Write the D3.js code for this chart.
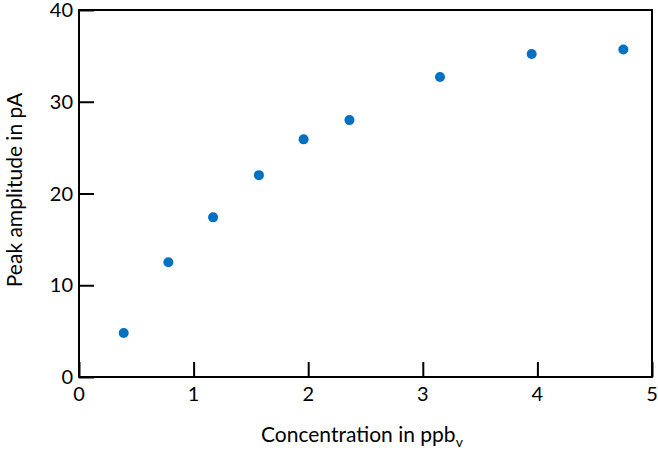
<!DOCTYPE html>
<html lang="en">
<head>
<meta charset="UTF-8">
<script src="https://cdn.jsdelivr.net/npm/d3@7"></script>
<style>
  body { margin: 0; background: #fff; }
  text { font-family: Lato, "Open Sans", sans-serif; fill: #000; }
</style>
</head>
<body>
<svg width="658" height="451"></svg>
<script>
  // concentration in ppbV
  var conc = [0.39, 0.78, 1.17, 1.57, 1.96, 2.36, 3.15, 3.95, 4.75];
  // peak amplitude in pA
  var amp = [4.8, 12.5, 17.4, 22.0, 25.9, 28.0, 32.7, 35.2, 35.7];
  var xTicks = [0, 1, 2, 3, 4, 5];
  var yTicks = [0, 10, 20, 30, 40];

  var svg = d3.select("svg");
  var mLeft = 79, mRight = 652, mTop = 10, mBottom = 377;

  var x = d3.scaleLinear().domain([0, 5]).range([mLeft, mRight]);
  var y = d3.scaleLinear().domain([0, 40]).range([mBottom, mTop]);

  // frame
  svg.append("rect")
    .attr("x", mLeft).attr("y", mTop)
    .attr("width", mRight - mLeft).attr("height", mBottom - mTop)
    .attr("fill", "none").attr("stroke", "#000").attr("stroke-width", 2);

  // inward ticks, labels drawn separately
  var xAxis = svg.append("g")
    .attr("transform", "translate(0," + mBottom + ")")
    .call(d3.axisTop(x).tickValues(xTicks).tickSize(15).tickFormat(""));
  var yAxis = svg.append("g")
    .attr("transform", "translate(" + mLeft + ",0)")
    .call(d3.axisRight(y).tickValues(yTicks).tickSize(15).tickFormat(""));
  [xAxis, yAxis].forEach(function (g) {
    g.select(".domain").remove();
    g.selectAll("line").attr("stroke", "#000").attr("stroke-width", 2);
  });

  svg.append("g").selectAll("text")
    .data(xTicks).enter().append("text")
    .attr("x", function (d) { return x(d); })
    .attr("y", mBottom + 24)
    .attr("text-anchor", "middle")
    .attr("font-size", 20)
    .text(function (d) { return d; });

  svg.append("g").selectAll("text")
    .data(yTicks).enter().append("text")
    .attr("x", mLeft - 6)
    .attr("y", function (d) { return y(d) + 7; })
    .attr("text-anchor", "end")
    .attr("font-size", 20)
    .text(function (d) { return d; });

  // axis titles
  var xt = svg.append("text")
    .attr("x", 261).attr("y", 442)
    .attr("font-size", 21);
  xt.append("tspan").text("Concentration in ppb");
  xt.append("tspan").attr("font-size", 14).attr("dy", 5).text("v");

  svg.append("text")
    .attr("transform", "translate(22,190) rotate(-90)")
    .attr("text-anchor", "middle")
    .attr("font-size", 21)
    .text("Peak amplitude in pA");

  svg.append("g").selectAll("circle")
    .data(conc).enter().append("circle")
    .attr("cx", function (d) { return x(d); })
    .attr("cy", function (d, i) { return y(amp[i]); })
    .attr("r", 5)
    .attr("fill", "#0070C0");
</script>
</body>
</html>
